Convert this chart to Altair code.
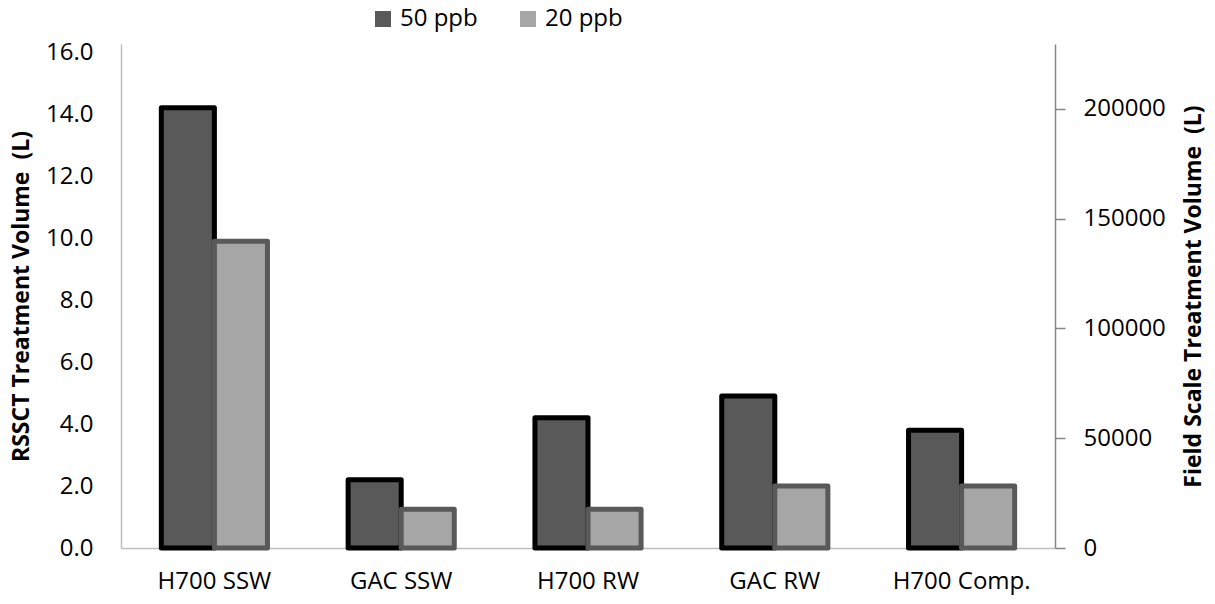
import altair as alt
import pandas as pd

# Treatment volumes per media / water type
categories = ["H700 SSW", "GAC SSW", "H700 RW", "GAC RW", "H700 Comp."]
series = ["50 ppb", "20 ppb"]
vol_50ppb = [14.2, 2.2, 4.2, 4.9, 3.8]
vol_20ppb = [9.9, 1.25, 1.25, 2.0, 2.0]

left_ticks = [0, 2, 4, 6, 8, 10, 12, 14, 16]
right_ticks = [0, 50000, 100000, 150000, 200000]

rows = []
for cat, a, b in zip(categories, vol_50ppb, vol_20ppb):
    rows.append({"media": cat, "series": "50 ppb", "volume": a})
    rows.append({"media": cat, "series": "20 ppb", "volume": b})
df = pd.DataFrame(rows)
field_df = pd.DataFrame({"field": right_ticks})

FONT = "Open Sans"
FS = 24
TFS = 23

x_enc = alt.X(
    "media:N",
    sort=categories,
    scale=alt.Scale(paddingInner=0, paddingOuter=0),
    axis=alt.Axis(
        title=None, labelAngle=0, ticks=False, domainColor="#BFBFBF",
        domainWidth=1.5, labelFont=FONT, labelFontSize=FS, labelColor="black",
        labelPadding=21,
    ),
)

bars = alt.Chart(df).mark_bar(strokeWidth=5, strokeJoin="round").encode(
    x=x_enc,
    xOffset=alt.XOffset("series:N", sort=series,
                        scale=alt.Scale(domain=series, paddingInner=0, paddingOuter=0.76)),
    y=alt.Y(
        "volume:Q",
        scale=alt.Scale(domain=[0, 16.26], nice=False, zero=True),
        axis=alt.Axis(
            values=left_ticks, format=".1f",
            title="RSSCT Treatment Volume \u00a0(L)",
            ticks=False, grid=False, domainColor="#BFBFBF", domainWidth=1.5,
            labelFont=FONT, labelFontSize=FS, labelColor="black", labelPadding=28,
            titleFont=FONT, titleFontSize=TFS, titleFontWeight="bold",
            titleColor="black", titleX=-88, titleBaseline="bottom",
        ),
    ),
    fill=alt.Fill(
        "series:N", sort=series,
        scale=alt.Scale(domain=series, range=["#595959", "#A6A6A6"]),
        legend=alt.Legend(
            title=None, orient="none", direction="horizontal", legendX=250,
            legendY=-37, symbolType="square", symbolSize=256, symbolStrokeWidth=0,
            labelFont=FONT, labelFontSize=FS, labelColor="black", labelOffset=5,
            columnPadding=38,
        ),
    ),
    stroke=alt.Stroke(
        "series:N", sort=series,
        scale=alt.Scale(domain=series, range=["#000000", "#595959"]),
        legend=None,
    ),
)

# Secondary axis for the field-scale equivalent volume
field_axis = alt.Chart(field_df).mark_point(opacity=0).encode(
    y=alt.Y(
        "field:Q",
        scale=alt.Scale(domain=[0, 229600], nice=False, zero=True),
        axis=alt.Axis(
            orient="right", values=right_ticks, format="d",
            title="Field Scale Treatment Volume \u00a0(L)", grid=False,
            domainColor="#868686", domainWidth=1.5, tickColor="#868686",
            tickSize=10, tickWidth=1.5, labelFont=FONT, labelFontSize=FS,
            labelColor="black", labelPadding=18, titleFont=FONT,
            titleFontSize=TFS, titleFontWeight="bold", titleColor="black",
            titleAngle=270, titleBaseline="top", titlePadding=17,
        ),
    ),
)

chart = (
    alt.layer(bars, field_axis)
    .resolve_scale(y="independent")
    .properties(
        width=934, height=504,
        autosize=alt.AutoSizeParams(type="none"),
        padding={"left": 121, "top": 44, "right": 160, "bottom": 56},
        background="white",
    )
    .configure_view(stroke=None)
)

chart.save("out.html", embed_options={"renderer": "svg", "actions": False})
